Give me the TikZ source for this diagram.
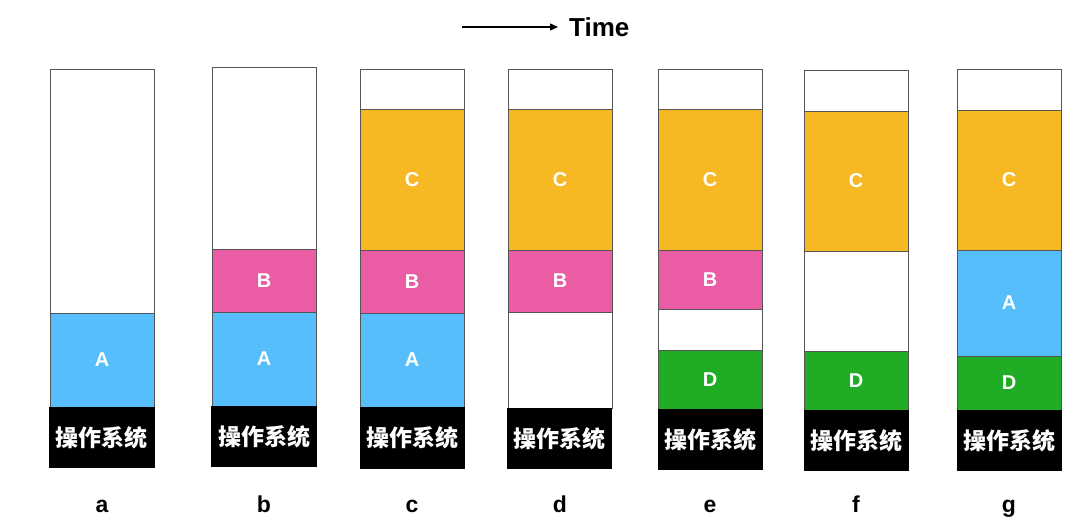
\documentclass[tikz,border=0pt]{standalone}
\usepackage{fontspec}
\setmainfont{Liberation Sans}
\newfontfamily\cjk{Noto Sans CJK SC}
\usetikzlibrary{arrows.meta}
\definecolor{mblue}{RGB}{86,190,250}
\definecolor{mpink}{RGB}{234,92,164}
\definecolor{morange}{RGB}{246,185,35}
\definecolor{mgreen}{RGB}{33,172,37}
\definecolor{mline}{RGB}{85,85,85}
\newcommand\mseg[7]{\draw[seg,fill=#5] (#1,#2) rectangle (#3,#4); \node[lab] (#6) at ({(#1+#3)/2},{(#2+#4)/2}) {#7};}
\newcommand\mframe[5]{\draw[seg,fill=white] (#1,#2) rectangle (#3,#4); \coordinate (#5) at ({(#1+#3)/2},#2);}
\newcommand\mos[5]{\fill[black] (#1,#2) rectangle (#3,#4); \node[ostext] (#5) at ({(#1+#3)/2},{(#2+#4)/2}) {操作系统};}
\begin{document}
\begin{tikzpicture}[x=1pt,y=-1pt,
  seg/.style={draw=mline, line width=0.9pt},
  lab/.style={text=white, inner sep=0pt, font=\bfseries\fontsize{20}{20}\selectfont},
  ostext/.style={text=white, inner sep=0pt, font=\cjk\bfseries\fontsize{23}{23}\selectfont},
  collab/.style={inner sep=0pt, anchor=base, font=\bfseries\fontsize{23}{23}\selectfont}]
\useasboundingbox (0,0) rectangle (1080,532);
\fill[white] (0,0) rectangle (1080,532);

% time arrow
\node[anchor=west, inner sep=0pt, font=\bfseries\fontsize{26}{26}\selectfont] (time) at (569,27) {Time};
\coordinate (t0) at (462,27);
\draw[line width=1.3pt, -{Triangle[length=8pt,width=7pt]}] (t0) -- ([xshift=-11pt]time.west);

% column a
\mframe{50}{69}{154}{407}{fa}
\mseg{50}{313}{154}{407}{mblue}{aA}{A}
\mos{49}{407}{155}{468}{osa}
\node[collab] (la) at (102,512) {a};

% column b
\mframe{212}{67}{316}{406}{fb}
\mseg{212}{249}{316}{312}{mpink}{bB}{B}
\mseg{212}{312}{316}{406}{mblue}{bA}{A}
\mos{211}{406}{317}{467}{osb}
\node[collab] (lb) at (264,512) {b};

% column c
\mframe{360}{69}{464}{407}{fc}
\mseg{360}{109}{464}{250}{morange}{cC}{C}
\mseg{360}{250}{464}{313}{mpink}{cB}{B}
\mseg{360}{313}{464}{407}{mblue}{cA}{A}
\mos{360}{407}{465}{469}{osc}
\node[collab] (lc) at (412,512) {c};

% column d
\mframe{508}{69}{612}{408}{fd}
\mseg{508}{109}{612}{250}{morange}{dC}{C}
\mseg{508}{250}{612}{312}{mpink}{dB}{B}
\mos{507}{408}{612}{469}{osd}
\node[collab] (ld) at (560,512) {d};

% column e
\mframe{658}{69}{762}{409}{fe}
\mseg{658}{109}{762}{250}{morange}{eC}{C}
\mseg{658}{250}{762}{309}{mpink}{eB}{B}
\mseg{658}{350}{762}{409}{mgreen}{eD}{D}
\mos{658}{409}{763}{470}{ose}
\node[collab] (le) at (710,512) {e};

% column f
\mframe{804}{70}{908}{410}{ff}
\mseg{804}{111}{908}{251}{morange}{fC}{C}
\mseg{804}{351}{908}{410}{mgreen}{fD}{D}
\mos{804}{410}{909}{471}{osf}
\node[collab] (lf) at (856,512) {f};

% column g
\mframe{957}{69}{1061}{410}{fg}
\mseg{957}{110}{1061}{250}{morange}{gC}{C}
\mseg{957}{250}{1061}{356}{mblue}{gA}{A}
\mseg{957}{356}{1061}{410}{mgreen}{gD}{D}
\mos{957}{410}{1062}{471}{osg}
\node[collab] (lg) at (1009,512) {g};
\end{tikzpicture}
\end{document}
